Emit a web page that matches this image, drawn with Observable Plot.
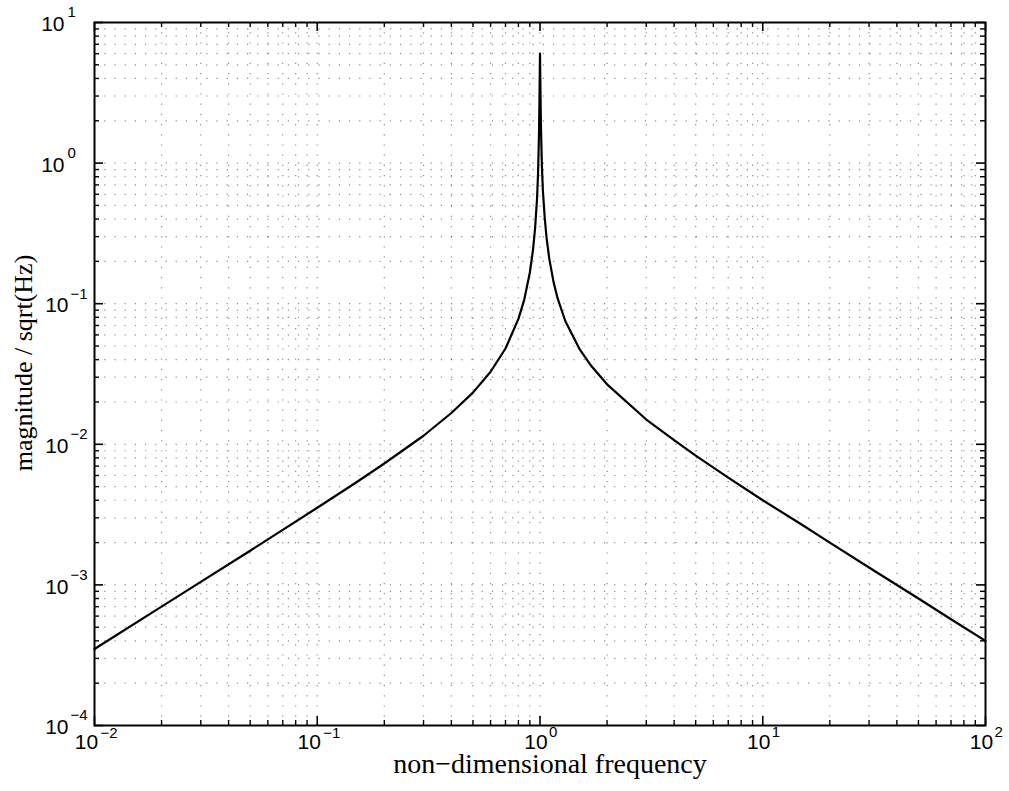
<!DOCTYPE html>
<html>
<head>
<meta charset="utf-8">
<script src="https://cdn.jsdelivr.net/npm/d3@7"></script>
<script src="https://cdn.jsdelivr.net/npm/@observablehq/plot@0.6"></script>
<style>
  html, body { margin: 0; padding: 0; background: #fff; }
</style>
</head>
<body>
<div id="chart"></div>
<script>
// Curve samples
const freq = [0.01,0.02,0.03,0.05,0.07,0.1,0.15,0.2,0.3,0.4,0.5,0.6,0.7,0.8,0.85,0.9,0.93,0.95,0.97,0.98,0.99,0.995,1.0,1.005,1.01,1.02,1.03,1.05,1.07,1.1,1.15,1.2,1.3,1.5,1.7,2,3,4,5,7,10,15,20,30,50,70,100];
const mag = [3.5e-4,7.0e-4,1.05e-3,1.75e-3,2.46e-3,3.54e-3,5.37e-3,7.3e-3,1.15e-2,1.67e-2,2.33e-2,3.28e-2,4.8e-2,7.8e-2,0.107,0.166,0.241,0.34,0.56,0.84,1.65,3.0,6.0,3.2,1.8,0.95,0.64,0.41,0.295,0.21,0.143,0.109,0.075,0.048,0.036,0.0267,0.015,0.0107,8.3e-3,5.8e-3,4.0e-3,2.68e-3,2.0e-3,1.33e-3,8.0e-4,5.7e-4,4.0e-4];

// Tick labels
const xMajor = [0.01, 0.1, 1, 10, 100];
const xExp = ["\u22122", "\u22121", "0", "1", "2"];
const yMajor = [1e-4, 1e-3, 1e-2, 1e-1, 1, 10];
const yExp = ["\u22124", "\u22123", "\u22122", "\u22121", "0", "1"];
const xLabel = "non\u2212dimensional frequency";
const yLabel = "magnitude / sqrt(Hz)";

const data = freq.map((f, i) => ({f, m: mag[i]}));
const minorOf = majors => majors.slice(0, -1).flatMap(v => [2,3,4,5,6,7,8,9].map(k => v * k));
const xMinor = minorOf(xMajor);
const yMinor = minorOf(yMajor);

const W = 1009, H = 791;
const mL = 94, mR = 24, mT = 22, mB = 66;
const fw = W - mL - mR, fh = H - mT - mB;

const xTicks = xMajor.map((v, i) => ({v, e: xExp[i], neg: xExp[i].startsWith("\u2212")}));
const yTicks = yMajor.map((v, i) => ({v, e: yExp[i], neg: yExp[i].startsWith("\u2212")}));

const sans = "Liberation Sans, Arial, Helvetica, sans-serif";
const serif = "Liberation Serif, Times New Roman, serif";
const gridStyle = {stroke: "#000", strokeOpacity: 0.45, strokeWidth: 1.2, strokeDasharray: "1.2,9"};
const big = {fontSize: 21, fontFamily: sans, fill: "#000"};
const sup = {fontSize: 15, fontFamily: sans, fill: "#000"};

const plot = Plot.plot({
  width: W, height: H,
  marginLeft: mL, marginRight: mR, marginTop: mT, marginBottom: mB,
  x: {type: "log", domain: [0.01, 100], axis: null},
  y: {type: "log", domain: [1e-4, 10], axis: null},
  style: {background: "#fff", color: "#000"},
  marks: [
    // dotted grid
    Plot.ruleX(xMajor.slice(1, -1).concat(xMinor), {x: d => d, ...gridStyle}),
    Plot.ruleY(yMajor.slice(1, -1).concat(yMinor), {y: d => d, ...gridStyle}),
    // curve
    Plot.line(data, {x: "f", y: "m", stroke: "#000", strokeWidth: 2.2}),
    // inward ticks: bottom/top
    Plot.tickX(xMajor, {x: d => d, insetTop: fh - 9, stroke: "#000", strokeWidth: 1.6}),
    Plot.tickX(xMajor, {x: d => d, insetBottom: fh - 9, stroke: "#000", strokeWidth: 1.6}),
    Plot.tickX(xMinor, {x: d => d, insetTop: fh - 5, stroke: "#000", strokeWidth: 1.4}),
    Plot.tickX(xMinor, {x: d => d, insetBottom: fh - 5, stroke: "#000", strokeWidth: 1.4}),
    // inward ticks: left/right
    Plot.tickY(yMajor, {y: d => d, insetRight: fw - 9, stroke: "#000", strokeWidth: 1.6}),
    Plot.tickY(yMajor, {y: d => d, insetLeft: fw - 9, stroke: "#000", strokeWidth: 1.6}),
    Plot.tickY(yMinor, {y: d => d, insetRight: fw - 5, stroke: "#000", strokeWidth: 1.4}),
    Plot.tickY(yMinor, {y: d => d, insetLeft: fw - 5, stroke: "#000", strokeWidth: 1.4}),
    Plot.frame({stroke: "#000", strokeWidth: 2}),
    // x tick labels
    Plot.text(xTicks.filter(d => d.neg), {x: "v", frameAnchor: "bottom", text: () => "10", dy: 23, dx: -8, textAnchor: "middle", ...big}),
    Plot.text(xTicks.filter(d => !d.neg), {x: "v", frameAnchor: "bottom", text: () => "10", dy: 23, dx: -4, textAnchor: "middle", ...big}),
    Plot.text(xTicks.filter(d => d.neg), {x: "v", frameAnchor: "bottom", text: "e", dy: 12, dx: 6, textAnchor: "start", ...sup}),
    Plot.text(xTicks.filter(d => !d.neg), {x: "v", frameAnchor: "bottom", text: "e", dy: 11, dx: 9, textAnchor: "start", ...sup}),
    // y tick labels
    Plot.text(yTicks.filter(d => d.neg), {y: "v", frameAnchor: "left", text: () => "10", dx: -26, dy: 2, textAnchor: "end", ...big}),
    Plot.text(yTicks.filter(d => d.neg), {y: "v", frameAnchor: "left", text: "e", dx: -24, dy: -10, textAnchor: "start", ...sup}),
    Plot.text(yTicks.filter(d => !d.neg), {y: "v", frameAnchor: "left", text: () => "10", dx: -30, dy: 2, textAnchor: "end", ...big}),
    Plot.text(yTicks.filter(d => !d.neg), {y: "v", frameAnchor: "left", text: "e", dx: -27, dy: -10, textAnchor: "start", ...sup}),
    // axis titles
    Plot.text([xLabel], {frameAnchor: "bottom", text: d => d, dy: 47, dx: 10, textAnchor: "middle", fontSize: 28, fontFamily: serif, fill: "#000"}),
    Plot.text([yLabel], {frameAnchor: "left", text: d => d, rotate: -90, dx: -71, dy: -11, textAnchor: "middle", fontSize: 26, fontFamily: serif, fill: "#000"})
  ]
});
document.getElementById("chart").appendChild(plot);
</script>
</body>
</html>
